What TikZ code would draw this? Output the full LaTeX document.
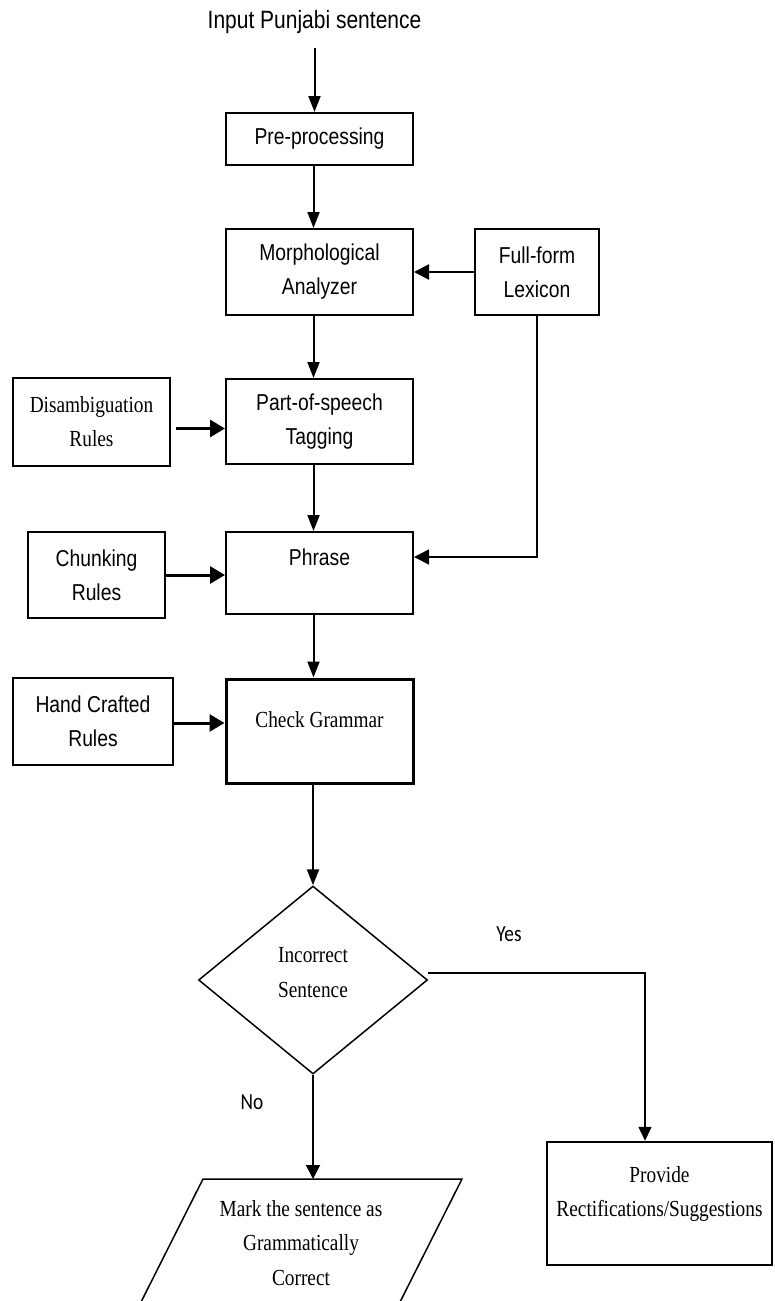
\documentclass[tikz,border=0pt]{standalone}
\usepackage{fontspec}
\newfontfamily\arialfam[FakeStretch=0.84]{Liberation Sans}
\newfontfamily\timesfam[FakeStretch=0.84]{Liberation Serif}
\newfontfamily\calfam[FakeStretch=0.84]{Carlito}
\usetikzlibrary{positioning, arrows.meta, shapes.geometric}

\begin{document}
\begin{tikzpicture}[x=1pt, y=-1pt, >={Triangle[length=16pt, width=12pt]}, line width=2pt]
  \tikzset{
    sans/.style={font=\arialfam\fontsize{23}{34}\selectfont},
    serif/.style={font=\timesfam\fontsize{23}{34.5}\selectfont},
    box/.style={draw, line width=2pt, minimum width=187pt, inner sep=0pt, align=center},
    rulebox/.style={draw, line width=2pt, inner sep=0pt, align=center},
    sidearrow/.style={->, line width=3pt, >={Triangle[length=15pt, width=17pt]}},
    answer/.style={font=\calfam\fontsize{23}{28}\selectfont, inner sep=0pt}
  }
  \useasboundingbox (0,0) rectangle (774,1301);
  \clip (0,0) rectangle (774,1301);

  % main column
  \node[font=\arialfam\fontsize{25}{30}\selectfont, inner ysep=13pt] (input) at (314.5,22) {Input Punjabi sentence};
  \node[box, sans, minimum height=52pt] (pre) at (319.5,139) {Pre-processing};
  \node[box, sans, minimum height=86pt, below=62pt of pre] (morph) {Morphological\\Analyzer};
  \node[box, sans, minimum height=85pt, below=62pt of morph] (pos) {Part-of-speech\\Tagging};
  \node[box, sans, minimum height=82pt, text height=17pt, text depth=33pt, below=66pt of pos] (phrase) {Phrase};
  \node[box, serif, line width=3pt, minimum height=104pt, text height=16pt, text depth=23pt, below=62.5pt of phrase] (check) {Check Grammar};
  \node[diamond, draw, line width=1.5pt, minimum width=229pt, minimum height=188pt, inner sep=0pt, below=100.75pt of check, xshift=-6.5pt] (decide) {};
  \node[serif, align=center, inner sep=0pt] (decidetext) at ([yshift=7.5pt]decide.center) {Incorrect\\Sentence};

  % side boxes
  \node[rulebox, sans, minimum width=124pt, minimum height=86pt, right=60pt of morph] (lexicon) {Full-form\\Lexicon};
  \node[rulebox, serif, minimum width=157pt, minimum height=88pt, left=54pt of pos] (disamb) {Disambiguation\\Rules};
  \node[rulebox, sans, minimum width=137pt, minimum height=86pt, left=59pt of phrase, yshift=-2pt] (chunk) {Chunking\\Rules};
  \node[rulebox, sans, minimum width=160pt, minimum height=87pt, left=50.5pt of check, yshift=9.5pt] (hand) {Hand Crafted\\Rules};

  % outcomes
  \node[draw, line width=2.5pt, minimum width=225pt, minimum height=123pt, inner sep=0pt] (provide) at (659.5,1203.5) {};
  \node[serif, align=center, inner sep=0pt] (providetext) at ([yshift=9.5pt]provide.center) {Provide\\Rectifications/Suggestions};
  \coordinate (marktop) at (313,1179);
  \draw[line width=1.5pt] (139.5,1305) -- (203,1179) -- (462,1179) -- (398.5,1305);
  \node[serif, align=center, inner sep=0pt] (mark) at (301,1243) {Mark the sentence as\\Grammatically\\Correct};

  \node[answer] (yes) at (509,934) {Yes};
  \node[answer] (no) at (252,1102) {No};

  % connectors
  \draw[->] (input.south) -- (input.south |- pre.north);
  \draw[->] ([xshift=-6pt]pre.south) -- ([xshift=-6pt]morph.north);
  \draw[->] ([xshift=-6pt]morph.south) -- ([xshift=-6pt]pos.north);
  \draw[->] ([xshift=-6pt]pos.south) -- ([xshift=-6pt]phrase.north);
  \draw[->] ([xshift=-6pt]phrase.south) -- ([xshift=-6pt]check.north);
  \draw[->] ([xshift=-6.5pt]check.south) -- (decide.north);
  \draw[->, line width=2.5pt, >={Triangle[length=15pt, width=15pt]}] (lexicon.west) -- (morph.east);
  \draw[->, line width=1.5pt, >={Triangle[length=15pt, width=15pt]}] (lexicon.south) |- ([yshift=16pt]phrase.east);
  \draw[sidearrow, shorten <=5pt] ([yshift=-7pt]disamb.east) -- ([yshift=-7pt]disamb.east -| pos.west);
  \draw[sidearrow] (chunk.east) -- (chunk.east -| phrase.west);
  \draw[sidearrow] ([yshift=-1.5pt]hand.east) -- ([yshift=-1.5pt]hand.east -| check.west);
  \draw[->, line width=1.5pt, >={Triangle[length=14pt, width=13pt]}] ([yshift=7pt]decide.east) -| ([xshift=-14.5pt]provide.north);
  \draw[->, >={Triangle[length=14pt, width=14pt]}] (decide.south) -- (marktop);
\end{tikzpicture}
\end{document}
